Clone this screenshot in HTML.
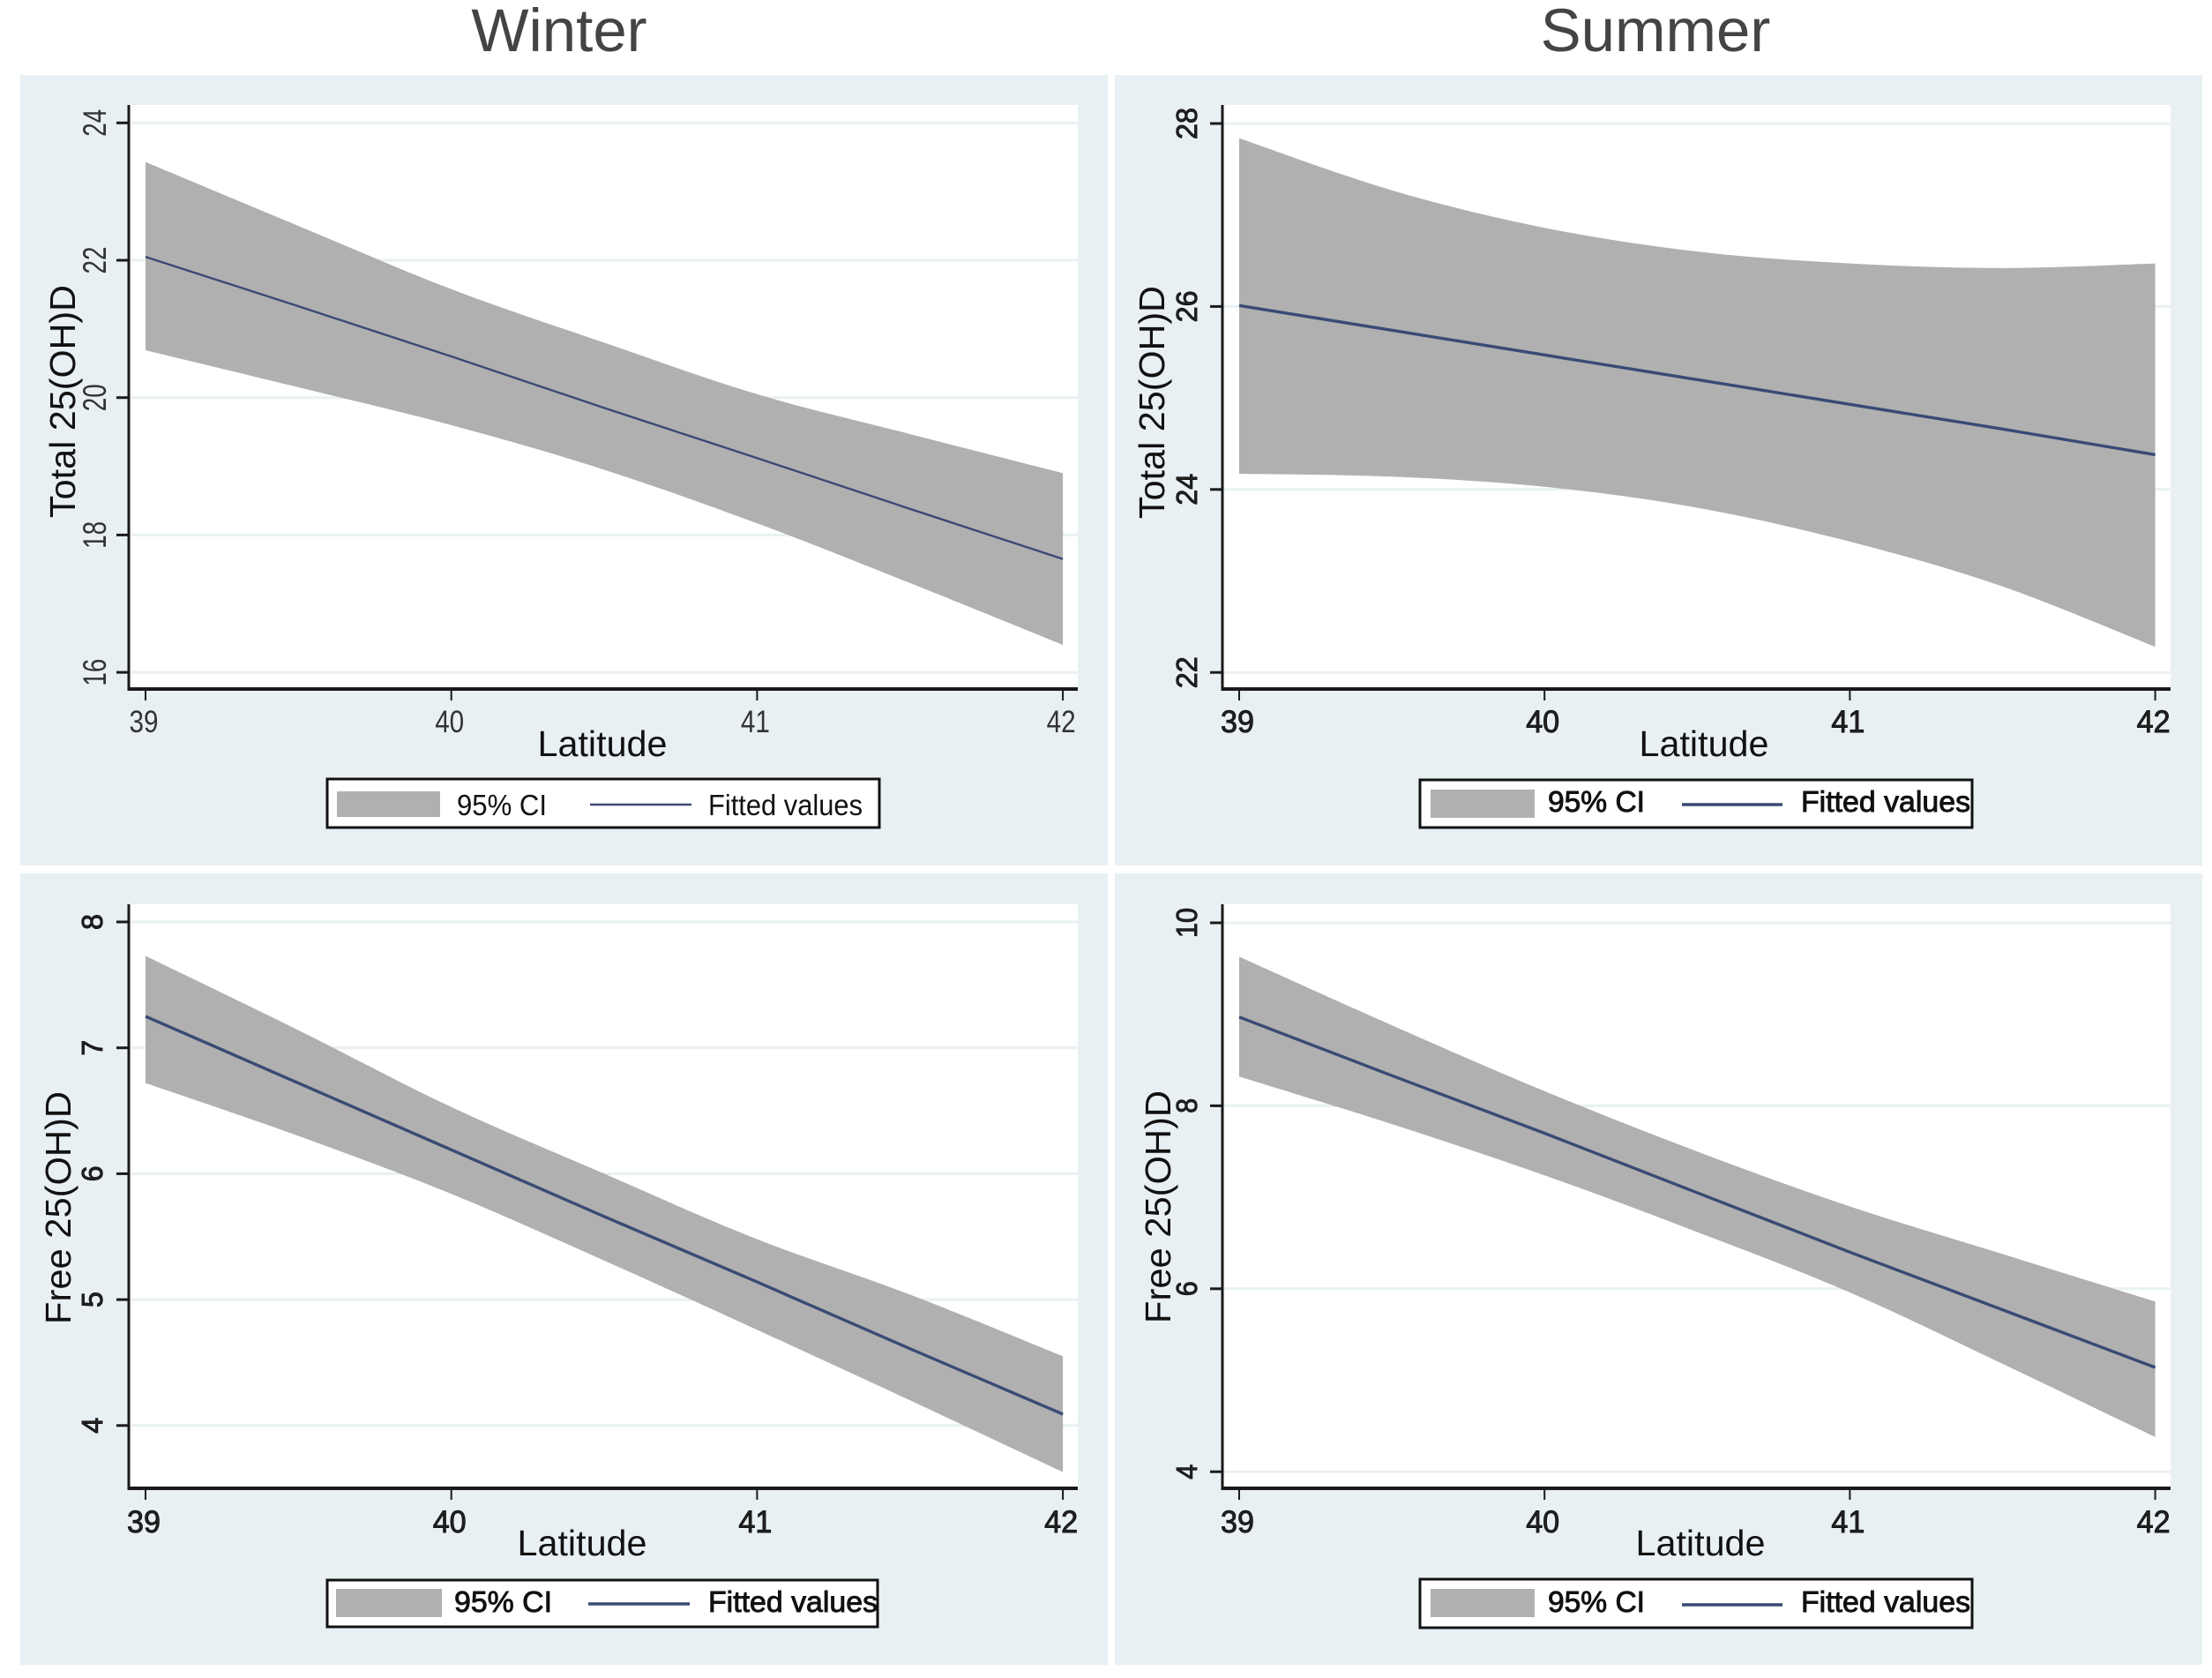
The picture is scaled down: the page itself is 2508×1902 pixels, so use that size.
<!DOCTYPE html>
<html lang="en">
<head>
<meta charset="utf-8">
<title>25(OH)D by latitude, winter and summer</title>
<style>
html,body{margin:0;padding:0;background:#fff;}
svg{display:block;}
text{font-family:"Liberation Sans",sans-serif;}
</style>
</head>
<body>
<svg id="chart" xmlns="http://www.w3.org/2000/svg" width="2508" height="1902" viewBox="0 0 2508 1902">
  <rect x="0" y="0" width="2508" height="1902" fill="#ffffff"/>
  <text x="634" y="58" font-size="69" text-anchor="middle" fill="#444444">Winter</text>
  <text x="1877" y="58" font-size="69" text-anchor="middle" fill="#444444">Summer</text>
</svg>
<script>
// Shared x data
const latitudes = [39, 39.5, 40, 40.5, 41, 41.5, 42];
const xTickLabels = [39, 40, 41, 42];

// Winter, total 25(OH)D
const winterTotalTicks = [16, 18, 20, 22, 24];
const winterTotalUpper = [23.43, 22.5, 21.58, 20.8, 20.05, 19.47, 18.9];
const winterTotalLower = [20.69, 20.15, 19.6, 18.95, 18.17, 17.3, 16.4];
const winterTotalFit = [22.05, 21.33, 20.6, 19.85, 19.12, 18.38, 17.65];

// Summer, total 25(OH)D
const summerTotalTicks = [22, 24, 26, 28];
const summerTotalUpper = [27.84, 27.27, 26.86, 26.6, 26.47, 26.42, 26.47];
const summerTotalLower = [24.17, 24.14, 24.03, 23.8, 23.43, 22.94, 22.28];
const summerTotalFit = [26.01, 25.74, 25.47, 25.2, 24.93, 24.66, 24.38];

// Winter, free 25(OH)D
const winterFreeTicks = [4, 5, 6, 7, 8];
const winterFreeUpper = [7.73, 7.14, 6.53, 6.0, 5.48, 5.04, 4.55];
const winterFreeLower = [6.72, 6.3, 5.84, 5.31, 4.76, 4.2, 3.63];
const winterFreeFit = [7.25, 6.72, 6.19, 5.66, 5.14, 4.61, 4.09];

// Summer, free 25(OH)D
const summerFreeTicks = [4, 6, 8, 10];
const summerFreeUpper = [9.63, 8.88, 8.16, 7.5, 6.9, 6.38, 5.86];
const summerFreeLower = [8.32, 7.8, 7.24, 6.62, 5.96, 5.18, 4.38];
const summerFreeFit = [8.97, 8.33, 7.7, 7.05, 6.4, 5.77, 5.14];

const svg = document.getElementById('chart');
const NS = 'http://www.w3.org/2000/svg';

function make(tag, attrs, parent, content) {
  const el = document.createElementNS(NS, tag);
  for (const k in attrs) el.setAttribute(k, attrs[k]);
  if (content !== undefined) el.textContent = content;
  parent.appendChild(el);
  return el;
}

// Smooth curve through the given points, used for the band edges
function curveThrough(pts) {
  let d = '';
  for (let i = 0; i < pts.length - 1; i++) {
    const p0 = pts[Math.max(i - 1, 0)];
    const p1 = pts[i];
    const p2 = pts[i + 1];
    const p3 = pts[Math.min(i + 2, pts.length - 1)];
    d += ' C' + (p1[0] + (p2[0] - p0[0]) / 6) + ',' + (p1[1] + (p2[1] - p0[1]) / 6) + ' ' +
      (p2[0] - (p3[0] - p1[0]) / 6) + ',' + (p2[1] - (p3[1] - p1[1]) / 6) + ' ' + p2[0] + ',' + p2[1];
  }
  return d;
}

function drawPanel(p) {
  const g = make('g', {}, svg);
  
  

  const sx = v => p.x39 + (v - 39) * p.xUnit;
  const sy = v => p.yRef + (p.refValue - v) * p.yUnit;
  const textBold = p.bold ? {stroke: '#111', 'stroke-width': p.bold} : {};

  const bg = make('rect', {x: p.bx, y: p.by, width: p.bw, height: p.bh, fill: '#e8f0f3'}, g);
  
  

  const plot = make('rect', {x: p.left, y: p.top, width: p.right - p.left, height: p.bottom - p.top, fill: '#ffffff'}, g);
  
  

  p.yTicks.forEach(t => {
    const grid = make('line', {x1: p.left, x2: p.right, y1: sy(t), y2: sy(t), stroke: '#eaf1f2', 'stroke-width': 3}, g);
    
    
  });

  const upperPts = latitudes.map((v, i) => [sx(v), sy(p.upper[i])]);
  const lowerPts = latitudes.map((v, i) => [sx(v), sy(p.lower[i])]).reverse();
  const bandPath = 'M' + upperPts[0].join(',') + curveThrough(upperPts) +
    ' L' + lowerPts[0].join(',') + curveThrough(lowerPts) + ' Z';
  const band = make('path', {d: bandPath, fill: '#b0b0b0'}, g);
  
  

  const fitLine = make('polyline', {points: latitudes.map((v, i) => sx(v) + ',' + sy(p.fit[i])).join(' '), fill: 'none', stroke: '#3a4a75', 'stroke-width': p.lineW}, g);
  
  

  const yAxis = make('line', {x1: p.left, x2: p.left, y1: p.top, y2: p.bottom + 2, stroke: '#1a1a1a', 'stroke-width': 3}, g);
  
  

  const xAxis = make('line', {x1: p.left - 1, x2: p.right, y1: p.bottom, y2: p.bottom, stroke: '#1a1a1a', 'stroke-width': 4}, g);
  
  

  p.yTicks.forEach(t => {
    const y = sy(t);
    const tick = make('line', {x1: p.left - 14, x2: p.left, y1: y, y2: y, stroke: '#1a1a1a', 'stroke-width': 3}, g);
    
    
    const label = String(t);
    const lab = make('text', Object.assign({x: p.yLabelX, y: y, 'font-size': p.yFont, 'text-anchor': 'middle', fill: p.labelFill,
      textLength: label.length * p.yDigitLen, lengthAdjust: 'spacingAndGlyphs',
      transform: 'rotate(-90 ' + p.yLabelX + ' ' + y + ')'}, textBold), g, label);
    
    
  });

  xTickLabels.forEach(t => {
    const x = sx(t);
    const tick = make('line', {x1: x, x2: x, y1: p.bottom, y2: p.bottom + 13, stroke: '#1a1a1a', 'stroke-width': 2}, g);
    
    
    const lab = make('text', Object.assign({x: x - 2, y: p.xLabelY, 'font-size': 35, 'text-anchor': 'middle', fill: p.labelFill,
      textLength: p.xLabelW, lengthAdjust: 'spacingAndGlyphs'}, textBold), g, String(t));
    
    
  });

  const xTitle = make('text', {x: p.xTitleX, y: p.xTitleY, 'font-size': 41, 'text-anchor': 'middle', fill: '#111',
    textLength: 147, lengthAdjust: 'spacingAndGlyphs'}, g, 'Latitude');
  
  

  const yTitle = make('text', {x: p.yTitleX, y: p.yTitleY, 'font-size': 41, 'text-anchor': 'middle', fill: '#111',
    textLength: 264, lengthAdjust: 'spacingAndGlyphs',
    transform: 'rotate(-90 ' + p.yTitleX + ' ' + p.yTitleY + ')'}, g, p.yTitle);
  
  

  const L = p.legend;
  const legend = make('g', {}, g);
  
  

  const box = make('rect', {x: L.x, y: L.y, width: L.w, height: L.h, fill: '#ffffff', stroke: '#111', 'stroke-width': 3}, legend);
  
  

  const swatch = make('rect', {x: L.swatchX, y: L.swatchY, width: L.swatchW, height: L.swatchH, fill: '#b0b0b0'}, legend);
  
  

  const ciText = make('text', Object.assign({x: L.ciX, y: L.textY, 'font-size': 33, fill: '#111',
    textLength: L.ciW, lengthAdjust: 'spacingAndGlyphs'}, textBold), legend, '95% CI');
  
  

  const swLine = make('line', {x1: L.lineX, x2: L.lineX + L.lineW, y1: L.lineY, y2: L.lineY, stroke: '#3a4a75', 'stroke-width': p.lineW}, legend);
  
  

  const fitText = make('text', Object.assign({x: L.fitX, y: L.textY, 'font-size': 33, fill: '#111',
    textLength: L.fitW, lengthAdjust: 'spacingAndGlyphs'}, textBold), legend, 'Fitted values');
  
  
}

const leftCol = {left: 146, right: 1222, x39: 165, xUnit: 346.7, bx: 23, bw: 1233};
const rightCol = {left: 1386, right: 2461, x39: 1405, xUnit: 346.2, bx: 1264, bw: 1233};
const topRow = {top: 119, bottom: 781, by: 85, bh: 896, xLabelY: 830, xTitleY: 857};
const botRow = {top: 1025, bottom: 1687, by: 990, bh: 897, xLabelY: 1737, xTitleY: 1763};

drawPanel(Object.assign({}, leftCol, topRow, {
  id: 'winter-total', yTicks: winterTotalTicks, upper: winterTotalUpper, lower: winterTotalLower, fit: winterTotalFit,
  refValue: 24, yRef: 139.3, yUnit: 77.85, lineW: 2.4, bold: 0, yFont: 37, yLabelX: 120, labelFill: '#333', yDigitLen: 15.5, xLabelW: 33,
  yTitle: 'Total 25(OH)D', yTitleX: 85, yTitleY: 455, xTitleX: 683,
  legend: {x: 371, y: 883, w: 626, h: 55, swatchX: 382, swatchY: 897, swatchW: 117, swatchH: 29, ciX: 518, ciW: 102, lineX: 669, lineW: 115, lineY: 912, fitX: 803, fitW: 175, textY: 924}
}));

drawPanel(Object.assign({}, rightCol, topRow, {
  id: 'summer-total', yTicks: summerTotalTicks, upper: summerTotalUpper, lower: summerTotalLower, fit: summerTotalFit,
  refValue: 28, yRef: 140, yUnit: 103.7, lineW: 3.4, bold: 0.9, yFont: 33, yLabelX: 1357, labelFill: '#222', yDigitLen: 18, xLabelW: 38,
  yTitle: 'Total 25(OH)D', yTitleX: 1320, yTitleY: 456, xTitleX: 1932,
  legend: {x: 1610, y: 884, w: 626, h: 54, swatchX: 1622, swatchY: 895, swatchW: 118, swatchH: 32, ciX: 1755, ciW: 110, lineX: 1907, lineW: 114, lineY: 912, fitX: 2042, fitW: 192, textY: 920}
}));

drawPanel(Object.assign({}, leftCol, botRow, {
  id: 'winter-free', yTicks: winterFreeTicks, upper: winterFreeUpper, lower: winterFreeLower, fit: winterFreeFit,
  refValue: 8, yRef: 1045, yUnit: 142.7, lineW: 3.4, bold: 0.9, yFont: 33, yLabelX: 116, labelFill: '#222', yDigitLen: 18, xLabelW: 38,
  yTitle: 'Free 25(OH)D', yTitleX: 80, yTitleY: 1369, xTitleX: 660,
  legend: {x: 371, y: 1791, w: 624, h: 53, swatchX: 381, swatchY: 1801, swatchW: 120, swatchH: 32, ciX: 515, ciW: 111, lineX: 667, lineW: 115, lineY: 1818, fitX: 803, fitW: 192, textY: 1827}
}));

drawPanel(Object.assign({}, rightCol, botRow, {
  id: 'summer-free', yTicks: summerFreeTicks, upper: summerFreeUpper, lower: summerFreeLower, fit: summerFreeFit,
  refValue: 10, yRef: 1046, yUnit: 103.7, lineW: 3.4, bold: 0.9, yFont: 33, yLabelX: 1357, labelFill: '#222', yDigitLen: 17, xLabelW: 38,
  yTitle: 'Free 25(OH)D', yTitleX: 1327, yTitleY: 1368, xTitleX: 1928,
  legend: {x: 1610, y: 1790, w: 626, h: 55, swatchX: 1622, swatchY: 1801, swatchW: 118, swatchH: 32, ciX: 1755, ciW: 110, lineX: 1907, lineW: 114, lineY: 1819, fitX: 2042, fitW: 192, textY: 1827}
}));
</script>
</body>
</html>
